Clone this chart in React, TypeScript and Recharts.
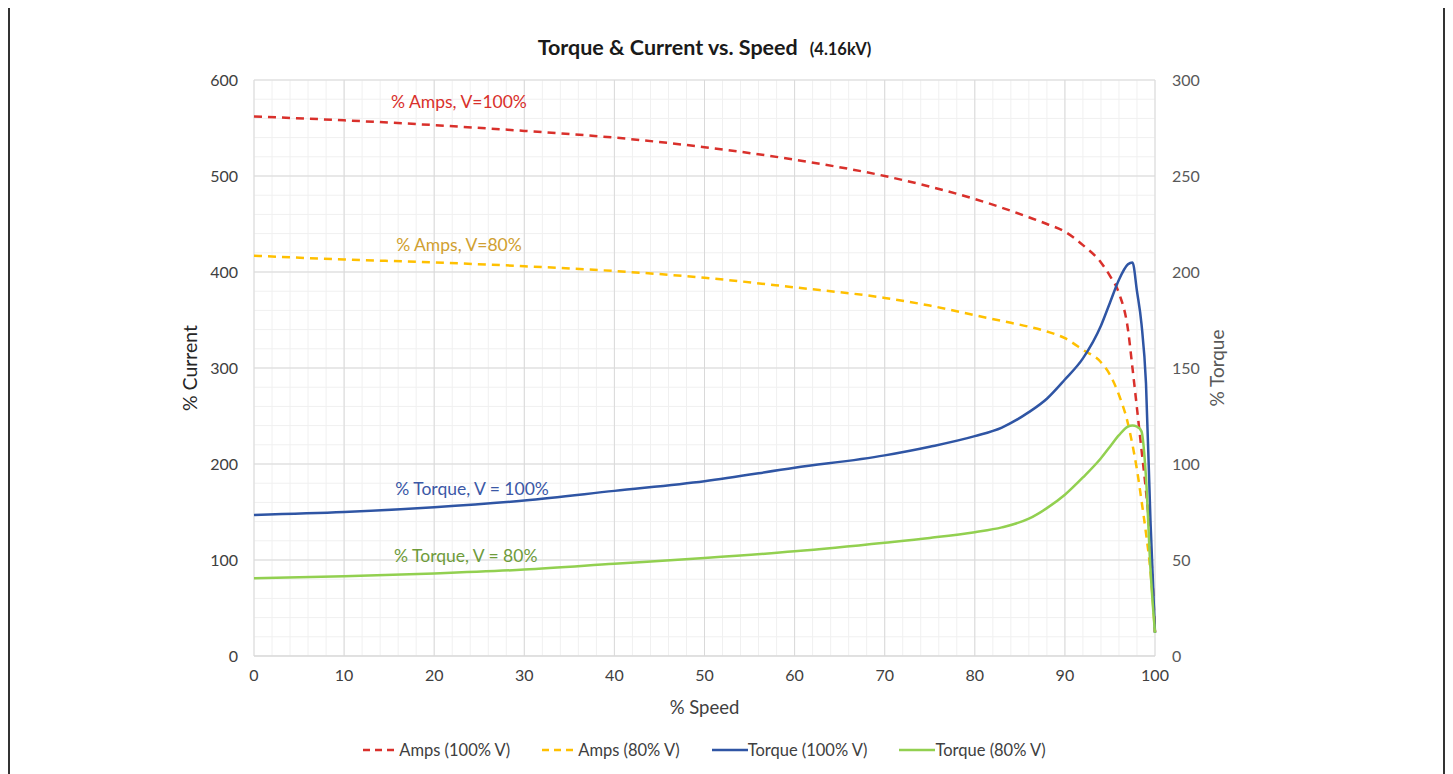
import React from "react";
import {
  LineChart,
  Line,
  XAxis,
  YAxis,
  CartesianGrid,
  Legend,
  ReferenceDot,
} from "recharts";

const speed = [0, 10, 20, 30, 40, 50, 60, 70, 75, 80, 83, 86, 88, 90, 92, 94, 95, 96, 97, 97.5, 98, 98.5, 99, 99.5, 100];
const amps100 = [562, 558, 553, 547, 540, 530, 517, 500, 489, 476, 467, 457, 450, 442, 428, 410, 396, 378, 340, 300, 258, 215, 172, 118, 25];
const amps80 = [417, 413, 410, 406, 401, 394, 384, 373, 365, 355, 349, 343, 338, 331, 319, 306, 293, 272, 242, 220, 194, 162, 128, 88, 25];
const torque100 = [73.5, 75, 77.5, 81, 86, 91, 98, 104.5, 109, 114.5, 119, 127, 134, 144, 155, 172, 184, 196, 204, 205, 190, 173, 142, 70, 12];
const torque80 = [40.5, 41.5, 43, 45, 48, 51, 54.5, 59, 61.5, 64.5, 67, 71.5, 77, 84, 93, 103, 109, 115, 119.5, 120, 119.5, 117, 93, 45, 12];

const speedTicks = [0, 10, 20, 30, 40, 50, 60, 70, 80, 90, 100];
const currentTicks = [0, 100, 200, 300, 400, 500, 600];
const torqueTicks = [0, 50, 100, 150, 200, 250, 300];
const minorSpeedTicks = Array.from({ length: 51 }, (_, i) => i * 2);
const minorCurrentTicks = Array.from({ length: 31 }, (_, i) => i * 20);

const data = speed.map((s, i) => ({
  speed: s,
  amps100: amps100[i],
  amps80: amps80[i],
  torque100: torque100[i],
  torque80: torque80[i],
}));

const FONT = "Lato, 'Open Sans', sans-serif";

const series = [
  { key: "amps100", name: "Amps (100% V)", color: "#D9302B", dash: "8 6", axis: "left" },
  { key: "amps80", name: "Amps (80% V)", color: "#FFC000", dash: "8 6", axis: "left" },
  { key: "torque100", name: "Torque (100% V)", color: "#2F55A4", dash: undefined, axis: "right" },
  { key: "torque80", name: "Torque (80% V)", color: "#92D050", dash: undefined, axis: "right" },
];

const annotations = [
  { text: "% Amps, V=100%", x: 22.75, y: 577, color: "#D9302B" },
  { text: "% Amps, V=80%", x: 22.75, y: 428, color: "#D0A030" },
  { text: "% Torque, V = 100%", x: 24.2, y: 174, color: "#3B58A6" },
  { text: "% Torque, V = 80%", x: 23.5, y: 104, color: "#6E9B3A" },
];

const scaleOf = (axis: any) => {
  const s = axis && axis.scale;
  if (!s) return null;
  return typeof s === "function" ? s : s.map ? (v: number) => s.map(v) : null;
};

const minorVertical = (props: any) => {
  const sc = scaleOf(props.xAxis);
  return sc ? minorSpeedTicks.map((t) => sc(t)) : [];
};

const minorHorizontal = (props: any) => {
  const sc = scaleOf(props.yAxis);
  return sc ? minorCurrentTicks.map((t) => sc(t)) : [];
};

const LegendContent = () => (
  <div
    style={{
      height: 42,
      paddingTop: 22,
      boxSizing: "border-box",
      display: "flex",
      justifyContent: "center",
      alignItems: "center",
      fontFamily: FONT,
      fontSize: 16.5,
      color: "#404040",
    }}
  >
    {series.map((s) => (
      <div key={s.key} style={{ display: "flex", alignItems: "center", margin: "0 16px" }}>
        <svg width={36} height={10}>
          <line
            x1={0}
            y1={5}
            x2={36}
            y2={5}
            stroke={s.color}
            strokeWidth={2.5}
            strokeDasharray={s.dash ? "7 5" : undefined}
          />
        </svg>
        <span>{s.name}</span>
      </div>
    ))}
  </div>
);

const App = () => {
  return (
    <div
      style={{
        position: "relative",
        marginTop: -3,
        width: 1437,
        height: 775,
        border: "2px solid #333",
        borderBottom: "none",
        boxSizing: "border-box",
        background: "#fff",
      }}
    >
      <div
        style={{
          position: "absolute",
          left: 0,
          right: 44,
          top: 28,
          textAlign: "center",
          fontFamily: FONT,
          fontWeight: 700,
          color: "#1a1a1a",
          zIndex: 2,
          lineHeight: "24px",
        }}
      >
        <span style={{ fontSize: 21.5 }}>Torque &amp; Current vs. Speed</span>
        <span style={{ fontSize: 16.5, marginLeft: 12 }}>(4.16kV)</span>
      </div>
      <LineChart
        width={1433}
        height={768}
        data={data}
        margin={{ top: 73, right: 208, left: 164, bottom: 15 }}
      >
        <CartesianGrid
          yAxisId="left"
          stroke="#F0F0F0"
          strokeWidth={1}
          verticalCoordinatesGenerator={minorVertical}
          horizontalCoordinatesGenerator={minorHorizontal}
        />
        <CartesianGrid stroke="#D9D9D9" strokeWidth={1} yAxisId="left" />
        <XAxis
          dataKey="speed"
          type="number"
          domain={[0, 100]}
          ticks={speedTicks}
          interval={0}
          height={62}
          tickLine={false}
          tickSize={0}
          tickMargin={14}
          axisLine={{ stroke: "#D9D9D9" }}
          tick={{ fill: "#404040", fontSize: 16, fontFamily: FONT }}
          label={{
            value: "% Speed",
            position: "insideBottom",
            offset: 4,
            fill: "#404040",
            fontSize: 18.5,
            fontFamily: FONT,
          }}
        />
        <YAxis
          yAxisId="left"
          type="number"
          domain={[0, 600]}
          ticks={currentTicks}
          interval={0}
          width={80}
          tickLine={false}
          axisLine={false}
          tickSize={0}
          tickMargin={16}
          tick={{ fill: "#404040", fontSize: 16, fontFamily: FONT }}
          label={{
            value: "% Current",
            angle: -90,
            position: "insideLeft",
            offset: 16,
            style: { textAnchor: "middle" },
            fill: "#262626",
            fontSize: 19.5,
            fontFamily: FONT,
          }}
        />
        <YAxis
          yAxisId="right"
          orientation="right"
          type="number"
          domain={[0, 300]}
          ticks={torqueTicks}
          interval={0}
          width={80}
          tickLine={false}
          axisLine={false}
          tickSize={0}
          tickMargin={17}
          tick={{ fill: "#595959", fontSize: 16, fontFamily: FONT }}
          label={{
            value: "% Torque",
            angle: -90,
            position: "insideRight",
            offset: 18,
            style: { textAnchor: "middle" },
            fill: "#595959",
            fontSize: 19,
            fontFamily: FONT,
          }}
        />
        {series.map((s) => (
          <Line
            key={s.key}
            type="monotone"
            dataKey={s.key}
            name={s.name}
            yAxisId={s.axis}
            stroke={s.color}
            strokeWidth={2.5}
            strokeDasharray={s.dash}
            dot={false}
            activeDot={false}
            isAnimationActive={false}
          />
        ))}
        {annotations.map((a) => (
          <ReferenceDot
            key={a.text}
            x={a.x}
            y={a.y}
            yAxisId="left"
            r={1}
            fill="none"
            stroke="none"
            label={{
              value: a.text,
              position: "center",
              fill: a.color,
              fontSize: 17.5,
              fontFamily: FONT,
            }}
          />
        ))}
        <Legend verticalAlign="bottom" content={<LegendContent />} />
      </LineChart>
    </div>
  );
};

export default App;
